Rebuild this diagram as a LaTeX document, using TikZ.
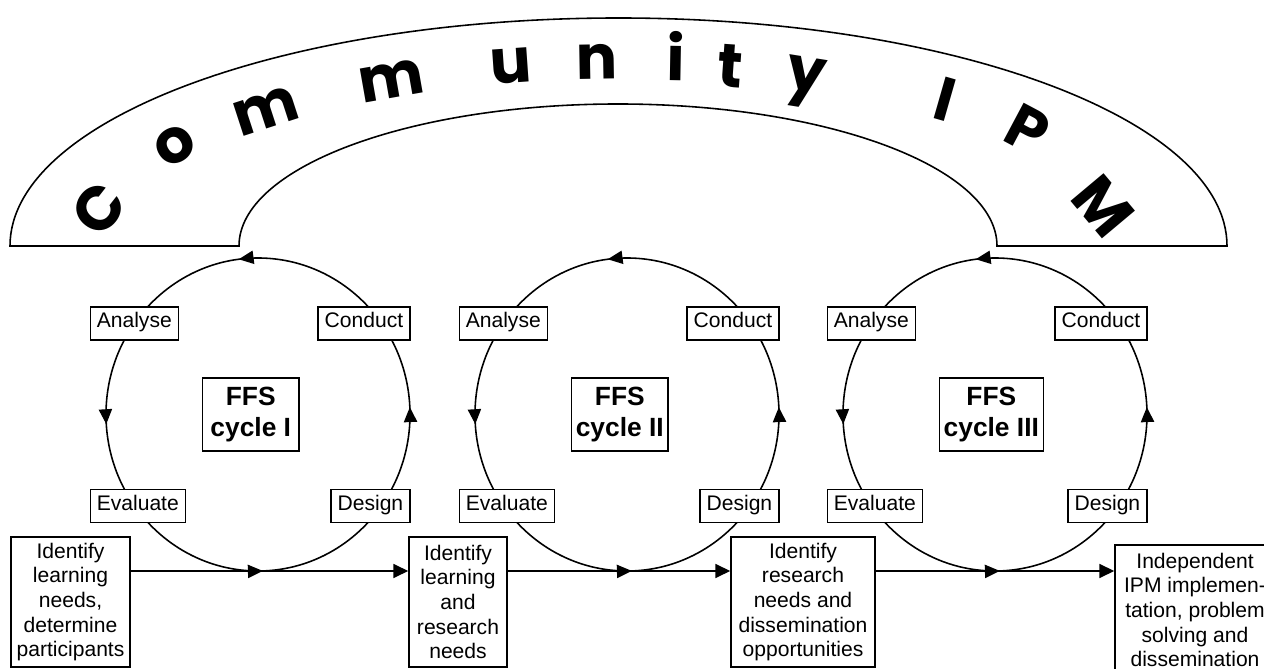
\documentclass[tikz,border=0pt]{standalone}
\usepackage{fontspec}
\setmainfont{Liberation Sans}
\newfontfamily\archfont{Poppins}
\usetikzlibrary{arrows.meta,decorations.markings,positioning}

\begin{document}
\begin{tikzpicture}[x=0.02cm,y=0.02cm,line width=0.9pt]
\tikzstyle{lbl}=[draw,fill=white,font=\fontsize{12}{14}\selectfont,minimum height=0.66cm,text height=8.6pt,text depth=3.5pt,inner xsep=3.7pt,inner ysep=0pt]
\tikzstyle{ffs}=[draw,fill=white,font=\fontsize{15}{17.6}\selectfont\bfseries,align=center,minimum width=1.94cm,minimum height=1.46cm,inner xsep=2.5pt,anchor=west]
\tikzstyle{need}=[draw,fill=white,font=\fontsize{12}{14}\selectfont,align=center,minimum height=2.6cm,inner xsep=2pt]
\tikzstyle{ltr}=[font=\archfont\bfseries\fontsize{35}{35}\selectfont,anchor=base,inner sep=0pt]
\tikzstyle{flow}=[-{Triangle[length=8.5pt,width=8pt]}]
\tikzstyle{cyc}=[postaction=decorate,decoration={markings,
  mark=at position 0.0076 with {\arrow{Triangle[length=8.5pt,width=7.5pt]}},
  mark=at position 0.27 with {\arrow{Triangle[length=8.5pt,width=7.5pt]}},
  mark=at position 0.51 with {\arrow{Triangle[length=8.5pt,width=7.5pt]}},
  mark=at position 0.755 with {\arrow{Triangle[length=8.5pt,width=7.5pt]}}}]
\path[use as bounding box,fill=white] (0,0) rectangle (1264,669);
\clip (0,0) rectangle (1264,669);

% the community arch
\draw (10,423) arc[start angle=180,end angle=0,x radius=608.5,y radius=228] -- (997,423)
  arc[start angle=0,end angle=180,x radius=379,y radius=142] -- cycle;
\node[ltr,rotate=52] (l1) at (116,446.5) {C};
\node[ltr,rotate=32] (l2) at (184,509) {o};
\node[ltr,rotate=18] (l3) at (271,542) {m};
\node[ltr,rotate=10] (l4) at (395,571) {m};
\node[ltr,rotate=4] (l5) at (512,585.5) {u};
\node[ltr,rotate=1] (l6) at (597,589.5) {n};
\node[ltr,rotate=-1] (l7) at (676,588) {i};
\node[ltr,rotate=-4] (l8) at (729,582) {t};
\node[ltr,rotate=-9] (l9) at (804,577) {y};
\node[ltr,rotate=-16] (l10) at (939,549) {I};
\node[ltr,rotate=-28] (l11) at (1017,520) {P};
\node[ltr,rotate=-50] (l12) at (1087,449) {M};

% cycle I
\coordinate (c1) at (258,254.5);
\coordinate (bt1) at ([shift={(0,-156.5)}]c1);
\draw[cyc] (c1) ellipse [x radius=152,y radius=156.5];
\node[lbl,anchor=west] (an1) at ([shift={(-168.5,91)}]c1) {Analyse};
\node[lbl,anchor=east] (co1) at ([shift={(152.5,91)}]c1) {Conduct};
\node[lbl,anchor=west] (ev1) at ([shift={(-168.5,-91.5)}]c1) {Evaluate};
\node[lbl,anchor=east] (de1) at ([shift={(152.5,-91.5)}]c1) {Design};
\node[ffs] (ffs1) at ([shift={(-56.5,0)}]c1) {FFS\\cycle I};

% cycle II
\coordinate (c2) at (627,254.5);
\coordinate (bt2) at ([shift={(0,-156.5)}]c2);
\draw[cyc] (c2) ellipse [x radius=152,y radius=156.5];
\node[lbl,anchor=west] (an2) at ([shift={(-168.5,91)}]c2) {Analyse};
\node[lbl,anchor=east] (co2) at ([shift={(152.5,91)}]c2) {Conduct};
\node[lbl,anchor=west] (ev2) at ([shift={(-168.5,-91.5)}]c2) {Evaluate};
\node[lbl,anchor=east] (de2) at ([shift={(152.5,-91.5)}]c2) {Design};
\node[ffs] (ffs2) at ([shift={(-56.5,0)}]c2) {FFS\\cycle II};

% cycle III
\coordinate (c3) at (995,254.5);
\coordinate (bt3) at ([shift={(0,-156.5)}]c3);
\draw[cyc] (c3) ellipse [x radius=152,y radius=156.5];
\node[lbl,anchor=west] (an3) at ([shift={(-168.5,91)}]c3) {Analyse};
\node[lbl,anchor=east] (co3) at ([shift={(152.5,91)}]c3) {Conduct};
\node[lbl,anchor=west] (ev3) at ([shift={(-168.5,-91.5)}]c3) {Evaluate};
\node[lbl,anchor=east] (de3) at ([shift={(152.5,-91.5)}]c3) {Design};
\node[ffs] (ffs3) at ([shift={(-56.5,0)}]c3) {FFS\\cycle III};

% needs along the bottom
\node[need,minimum width=2.38cm] (b1) at (70.5,67) {Identify\\learning\\needs,\\determine\\participants};
\node[need,minimum width=1.96cm] (b2) at (458,67) {Identify\\learning\\and\\research\\needs};
\node[need,minimum width=2.88cm] (b3) at (803,67) {Identify\\research\\needs and\\dissemination\\opportunities};
\node[need,minimum width=3.2cm] (b4) at (1195,59) {Independent\\IPM implemen-\\tation, problem\\solving and\\dissemination};
\draw[flow] (b1.east |- bt1) -- (b2.west |- bt1);
\draw[flow] (b2.east |- bt2) -- (b3.west |- bt2);
\draw[flow] (b3.east |- bt3) -- (b4.west |- bt3);
\end{tikzpicture}
\end{document}
